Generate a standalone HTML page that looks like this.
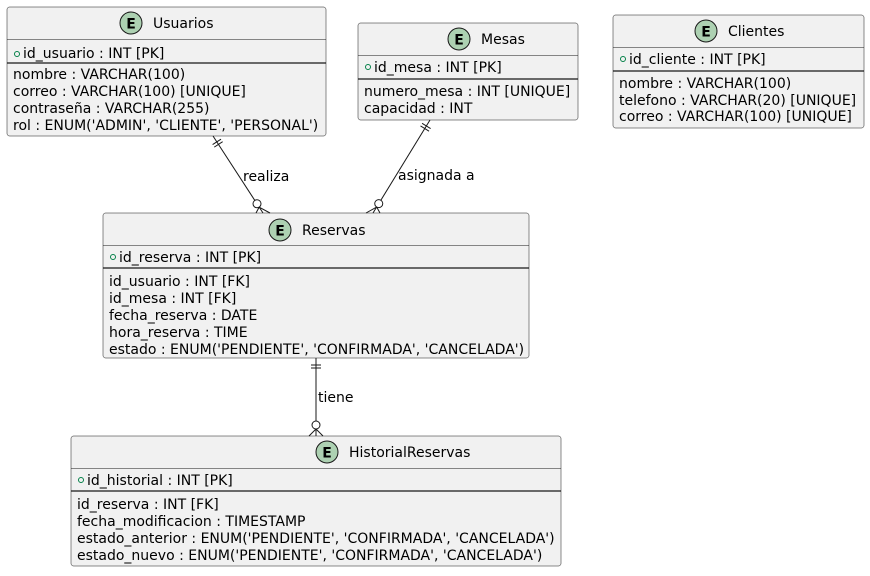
<!DOCTYPE html>
<html><head><meta charset="utf-8"><style>
html,body{margin:0;padding:0;background:#fff;}
svg text{font-family:"DejaVu Sans","Liberation Sans",sans-serif;font-size:14px;fill:#000;}
</style></head><body>
<svg id="s" width="870" height="571" viewBox="0 0 870 571" xmlns="http://www.w3.org/2000/svg">
<g fill="#F1F1F1" stroke="#181818" stroke-width="0.5">
<rect x="7" y="7" width="319" height="129" rx="2.5"/>
<rect x="358" y="23" width="220" height="97" rx="2.5"/>
<rect x="613" y="15" width="251" height="113" rx="2.5"/>
<rect x="103" y="213" width="426" height="145" rx="2.5"/>
<rect x="71" y="436" width="490" height="130" rx="2.5"/>
</g>
<g stroke="#181818" stroke-width="0.5">
<line x1="7" y1="39.5" x2="326" y2="39.5"/>
<line x1="358" y1="55.5" x2="578" y2="55.5"/>
<line x1="613" y1="47.5" x2="864" y2="47.5"/>
<line x1="103" y1="245.5" x2="529" y2="245.5"/>
<line x1="71" y1="468.5" x2="561" y2="468.5"/>
</g>
<g stroke="#181818" stroke-width="1.2">
<line x1="7" y1="63" x2="326" y2="63"/>
<line x1="358" y1="79" x2="578" y2="79"/>
<line x1="613" y1="71" x2="864" y2="71"/>
<line x1="103" y1="268" x2="529" y2="268"/>
<line x1="71" y1="491" x2="561" y2="491"/>
</g>
<g fill="#ADD1B2" stroke="#181818" stroke-width="1">
<circle cx="131" cy="23" r="11"/>
<circle cx="459" cy="39" r="11"/>
<circle cx="706" cy="31" r="11"/>
<circle cx="280" cy="230" r="11"/>
<circle cx="327" cy="452" r="11"/>
</g>
<g style="font-weight:bold;font-size:15px" text-anchor="middle">
<text x="131" y="28.5">E</text><text x="459" y="44.5">E</text><text x="706" y="36.5">E</text><text x="280" y="235.5">E</text><text x="327" y="457.5">E</text>
</g>
<text x="153" y="28">Usuarios</text>
<text x="481" y="44">Mesas</text>
<text x="728" y="36">Clientes</text>
<text x="302" y="235">Reservas</text>
<text x="349" y="457">HistorialReservas</text>
<g fill="none" stroke="#038048" stroke-width="1">
<circle cx="17" cy="54" r="2.5"/><circle cx="368" cy="67" r="2.5"/><circle cx="623" cy="59" r="2.5"/><circle cx="113" cy="257" r="2.5"/><circle cx="81" cy="480" r="2.5"/>
</g>
<text x="23" y="58">id_usuario : INT [PK]</text>
<text x="13" y="79">nombre : VARCHAR(100)</text>
<text x="13" y="96">correo : VARCHAR(100) [UNIQUE]</text>
<text x="13" y="113">contraseña : VARCHAR(255)</text>
<text x="13" y="130">rol : ENUM('ADMIN', 'CLIENTE', 'PERSONAL')</text>
<text x="374" y="72">id_mesa : INT [PK]</text>
<text x="364" y="96">numero_mesa : INT [UNIQUE]</text>
<text x="364" y="113">capacidad : INT</text>
<text x="629" y="64">id_cliente : INT [PK]</text>
<text x="619" y="88">nombre : VARCHAR(100)</text>
<text x="619" y="105">telefono : VARCHAR(20) [UNIQUE]</text>
<text x="619" y="121">correo : VARCHAR(100) [UNIQUE]</text>
<text x="119" y="262">id_reserva : INT [PK]</text>
<text x="109" y="286">id_usuario : INT [FK]</text>
<text x="109" y="303">id_mesa : INT [FK]</text>
<text x="109" y="320">fecha_reserva : DATE</text>
<text x="109" y="337">hora_reserva : TIME</text>
<text x="109" y="354">estado : ENUM('PENDIENTE', 'CONFIRMADA', 'CANCELADA')</text>
<text x="87" y="485">id_historial : INT [PK]</text>
<text x="77" y="509">id_reserva : INT [FK]</text>
<text x="77" y="526">fecha_modificacion : TIMESTAMP</text>
<text x="77" y="543">estado_anterior : ENUM('PENDIENTE', 'CONFIRMADA', 'CANCELADA')</text>
<text x="77" y="560">estado_nuevo : ENUM('PENDIENTE', 'CONFIRMADA', 'CANCELADA')</text>
<g style="font-size:13px">
<text x="243" y="181">realiza</text>
<text x="398" y="180">asignada a</text>
<text x="318" y="402">tiene</text>
</g>
<g id="c" stroke="#181818" stroke-width="1" fill="none"></g>
</svg>
<script>
(function(){
var g=document.getElementById('c'),s='';
function rel(px,py,cx,cy){
 var dx=cx-px,dy=cy-py,L=Math.hypot(dx,dy),ux=dx/L,uy=dy/L,nx=-uy,ny=ux;
 function P(d,o){return [px+ux*d+nx*o,py+uy*d+ny*o];}
 function C(d,o){return [cx-ux*d+nx*o,cy-uy*d+ny*o];}
 var a=C(15,0);
 s+='<line x1="'+px+'" y1="'+py+'" x2="'+a[0]+'" y2="'+a[1]+'"/>';
 [7,10].forEach(function(d){var p=P(d,-5),q=P(d,5);s+='<line x1="'+p[0]+'" y1="'+p[1]+'" x2="'+q[0]+'" y2="'+q[1]+'"/>';});
 var o=C(11,0);s+='<circle cx="'+o[0]+'" cy="'+o[1]+'" r="4" fill="#fff"/>';
 var v=C(7,0),e=C(0,0),l=[cx-7,cy],r=[cx+7,cy];
 s+='<line x1="'+v[0]+'" y1="'+v[1]+'" x2="'+e[0]+'" y2="'+e[1]+'"/>';
 s+='<line x1="'+v[0]+'" y1="'+v[1]+'" x2="'+l[0]+'" y2="'+l[1]+'"/>';
 s+='<line x1="'+v[0]+'" y1="'+v[1]+'" x2="'+r[0]+'" y2="'+r[1]+'"/>';
}
rel(213,136,263,213);
rel(430,120,373,213);
rel(316,358,316,436);
g.innerHTML=s;
})();
</script>
</body></html>
